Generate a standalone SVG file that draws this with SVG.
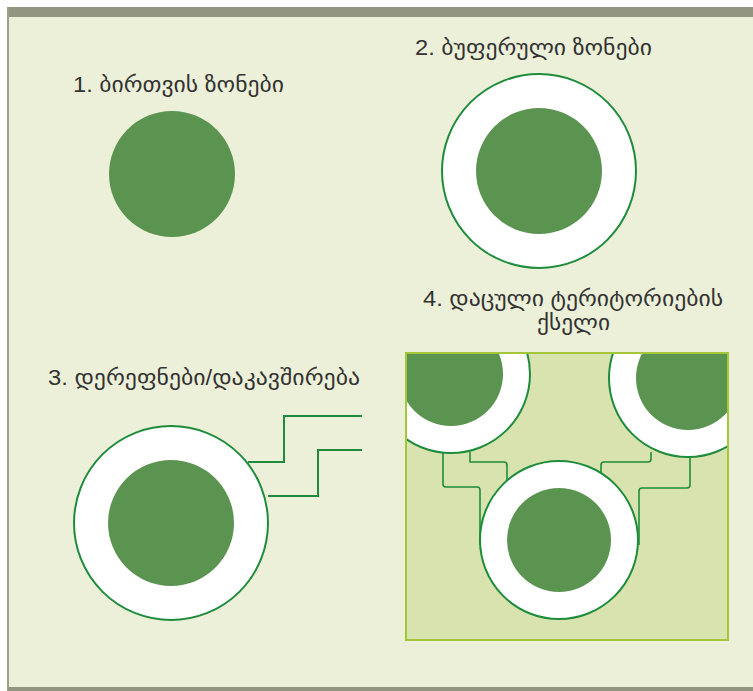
<svg xmlns="http://www.w3.org/2000/svg" width="753" height="691" viewBox="0 0 753 691">
<defs>
<style>
.lbl{font-family:"Liberation Sans","DejaVu Sans",sans-serif;font-size:22px;fill:#333333}
.core{fill:#5b9450}
.buf{fill:#ffffff;stroke:#1e8c3c;stroke-width:2}
.con{fill:none;stroke:#1e8c3c;stroke-width:2}
.con2{fill:none;stroke:#1e8c3c;stroke-width:1.6;stroke-linejoin:round}
</style>
<clipPath id="panelClip"><rect x="406" y="353" width="322" height="287"/></clipPath>
</defs>
<rect x="0" y="0" width="753" height="691" fill="#ffffff"/>
<rect x="8" y="7" width="745" height="683" fill="#ecf0d8"/>
<rect x="8" y="7" width="745" height="10" fill="#929580"/>
<rect x="7" y="7" width="2" height="684" fill="#9c9f8c"/>
<rect x="8" y="687" width="745" height="4" fill="#929580"/>

<g id="node1">
<text class="lbl" x="73" y="92" textLength="211" lengthAdjust="spacingAndGlyphs">1. ბირთვის ზონები</text>
<circle class="core" cx="172" cy="174" r="63"/>
</g>

<g id="node2">
<text class="lbl" x="415" y="55" textLength="237" lengthAdjust="spacingAndGlyphs">2. ბუფერული ზონები</text>
<circle class="buf" cx="539" cy="171" r="97"/>
<circle class="core" cx="539" cy="171" r="63"/>
</g>

<g id="node3">
<text class="lbl" x="48" y="385" textLength="312" lengthAdjust="spacingAndGlyphs">3. დერეფნები/დაკავშირება</text>
<circle class="buf" cx="171" cy="523" r="97"/>
<circle class="core" cx="171" cy="523" r="63"/>
</g>

<g id="node4">
<text class="lbl" x="423" y="306" textLength="300" lengthAdjust="spacingAndGlyphs">4. დაცული ტერიტორიების</text>
<text class="lbl" x="537" y="330" textLength="73" lengthAdjust="spacingAndGlyphs">ქსელი</text>
<rect x="406" y="353" width="322" height="287" fill="#d9e3b0"/>
<g clip-path="url(#panelClip)">
<circle class="buf" cx="451" cy="374" r="79"/>
<circle class="core" cx="451" cy="374" r="52"/>
<circle class="buf" cx="688" cy="378" r="79"/>
<circle class="core" cx="688" cy="378" r="52"/>
</g>
<rect x="406" y="353" width="322" height="287" fill="none" stroke="#a4c639" stroke-width="2"/>
</g>

<g id="connectors">
<path class="con" d="M248 462 H284 V416 H362"/>
<path class="con" d="M268 496 H318 V450 H362"/>
<path class="con2" d="M443 452 V484 Q443 487 446 487 H477 Q480 487 480 490 V545"/>
<path class="con2" d="M470 452 V462 H504 Q507 462 507 465 V485"/>
<path class="con2" d="M601 475 V465 Q601 462 604 462 H648 Q651 462 651 459 V452"/>
<path class="con2" d="M690 456 V485 Q690 488 687 488 H642 Q639 488 639 491 V545"/>
</g>

<g id="node4b">
<circle class="buf" cx="559" cy="540" r="79"/>
<circle class="core" cx="559" cy="540" r="52"/>
</g>
</svg>
